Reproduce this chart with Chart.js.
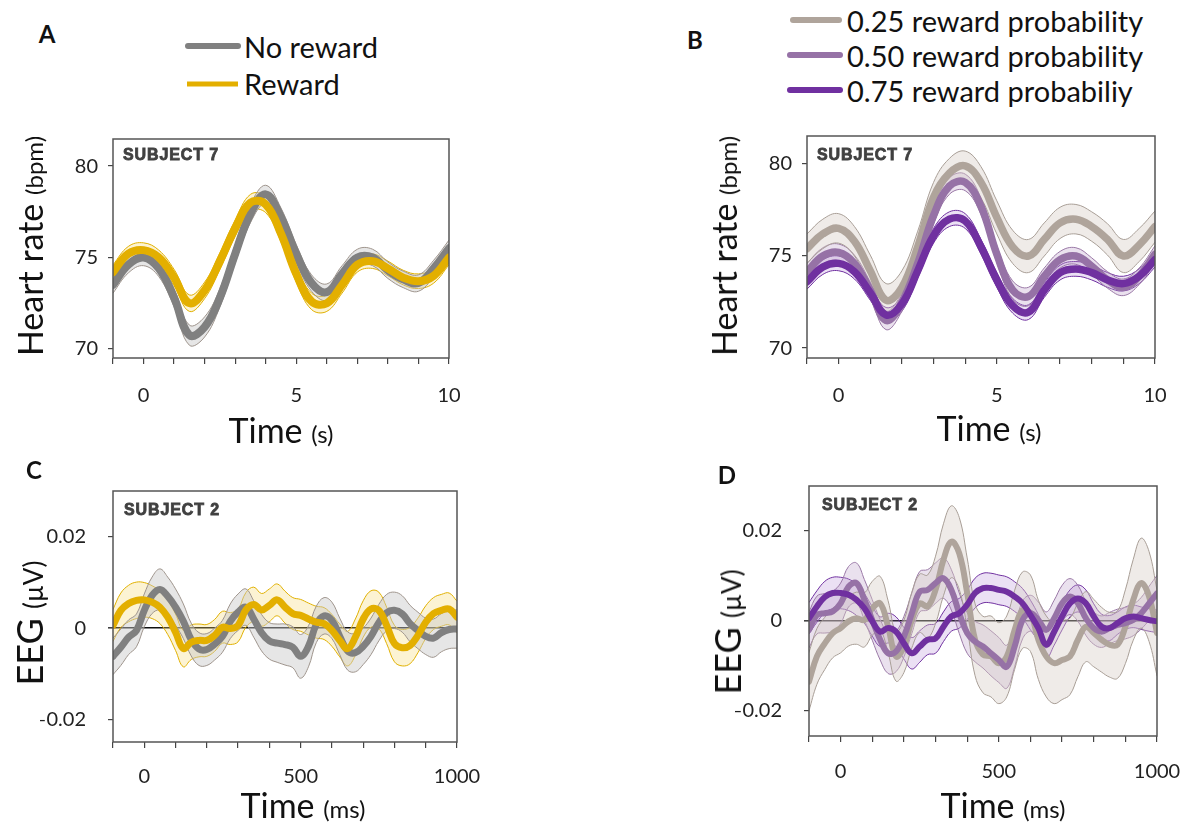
<!DOCTYPE html>
<html>
<head>
<meta charset="utf-8">
<script src="https://cdn.jsdelivr.net/npm/chart.js@4.4.0/dist/chart.umd.min.js"></script>
<style>
  body { margin: 0; background: #fff; width: 1192px; height: 832px; position: relative; overflow: hidden; font-family: Lato, sans-serif; color: #111; }
  canvas { position: absolute; }
  .t { position: absolute; white-space: nowrap; line-height: 1; }
  .letter { font-weight: bold; font-size: 24px; transform: translate(-50%, -50%); }
  .leg { font-size: 29px; transform: translateY(-50%); }
  .swatch { position: absolute; height: 6px; border-radius: 3px; transform: translateY(-50%); }
  .subj { font-family: "Liberation Sans", sans-serif; font-weight: bold; font-size: 16px; color: #404040; letter-spacing: 0.9px; -webkit-text-stroke: 0.8px #404040; transform: translateY(-50%); }
  .xt { transform: translate(-50%, -50%); }
  .yt { transform: translate(-50%, -50%) rotate(-90deg); }
  .big { font-size: 34px; }
  .small { font-size: 24px; }
  .eeg .big { font-size: 36px; }
  .eeg .small { font-size: 26px; }
</style>
</head>
<body>
<canvas id="chartA" width="420" height="300" style="left:40px;top:120px"></canvas>
<canvas id="chartB" width="445" height="300" style="left:735px;top:120px"></canvas>
<canvas id="chartC" width="441" height="340" style="left:40px;top:470px"></canvas>
<canvas id="chartD" width="450" height="340" style="left:735px;top:470px"></canvas>

<div class="t letter" style="left:47px;top:34px">A</div>
<div class="t letter" style="left:695px;top:40px">B</div>
<div class="t letter" style="left:34px;top:470px">C</div>
<div class="t letter" style="left:727px;top:475px">D</div>

<div class="swatch" style="left:185px;top:46px;width:56px;background:#808080"></div>
<div class="t leg" style="left:244px;top:46px">No reward</div>
<div class="swatch" style="left:187px;top:84px;width:51px;height:5px;border-radius:0;background:#E3AF00"></div>
<div class="t leg" style="left:244px;top:83px">Reward</div>

<div class="swatch" style="left:790px;top:20px;width:52px;background:#AFA49B"></div>
<div class="t leg" style="left:847px;top:20px">0.25 reward probability</div>
<div class="swatch" style="left:787px;top:55px;width:56px;background:#9672A6"></div>
<div class="t leg" style="left:847px;top:55px">0.50 reward probability</div>
<div class="swatch" style="left:787px;top:90px;width:56px;background:#7030A0"></div>
<div class="t leg" style="left:847px;top:90px">0.75 reward probabiliy</div>

<div class="t subj" style="left:123px;top:155px">SUBJECT 7</div>
<div class="t subj" style="left:817px;top:155px">SUBJECT 7</div>
<div class="t subj" style="left:124px;top:510px">SUBJECT 2</div>
<div class="t subj" style="left:822px;top:505px">SUBJECT 2</div>

<div class="t yt" style="left:30px;top:246px"><span class="big">Heart rate </span><span class="small">(bpm)</span></div>
<div class="t yt" style="left:724px;top:246px"><span class="big">Heart rate </span><span class="small">(bpm)</span></div>
<div class="t yt eeg" style="left:29px;top:623px"><span class="big">EEG </span><span class="small">(µV)</span></div>
<div class="t yt eeg" style="left:727px;top:632px"><span class="big">EEG </span><span class="small">(µV)</span></div>

<div class="t xt" style="left:281px;top:430px"><span class="big">Time </span><span class="small">(s)</span></div>
<div class="t xt" style="left:989px;top:428px"><span class="big">Time </span><span class="small">(s)</span></div>
<div class="t xt" style="left:303px;top:805px"><span class="big">Time </span><span class="small">(ms)</span></div>
<div class="t xt" style="left:1003px;top:805px"><span class="big">Time </span><span class="small">(ms)</span></div>

<script>
// heart rate panels, time in seconds
const timeS = [-1, -0.5, 0, 0.5, 1, 1.5, 2, 2.5, 3, 3.5, 4, 4.5, 5, 5.5, 6, 6.5, 7, 7.5, 8, 8.5, 9, 9.5, 10]

const noRewardHR = [73.5, 74.6, 75.0, 74.4, 72.8, 70.75, 71.2, 72.8, 75.2, 77.4, 78.45, 77.2, 75.2, 73.6, 73.1, 74.1, 75.0, 75.0, 74.3, 73.8, 73.6, 74.4, 75.5]
const noRewardHRErr = [0.45, 0.45, 0.45, 0.45, 0.5, 0.55, 0.55, 0.5, 0.5, 0.5, 0.5, 0.5, 0.5, 0.45, 0.45, 0.45, 0.45, 0.45, 0.45, 0.45, 0.45, 0.45, 0.45]
const rewardHR = [74.2, 75.2, 75.4, 75.0, 73.9, 72.5, 73.2, 74.8, 76.6, 78.0, 77.9, 76.3, 74.1, 72.6, 72.5, 73.5, 74.6, 74.8, 74.4, 73.9, 73.7, 74.0, 75.0]
const rewardHRErr = [0.4, 0.4, 0.4, 0.4, 0.45, 0.45, 0.45, 0.45, 0.45, 0.45, 0.45, 0.45, 0.45, 0.45, 0.45, 0.45, 0.4, 0.4, 0.4, 0.4, 0.4, 0.4, 0.4]

const p25HR = [75.4, 76.2, 76.5, 75.8, 74.2, 72.6, 73.3, 75.5, 78.2, 79.5, 79.9, 79.0, 77.1, 75.5, 75.0, 75.9, 76.8, 77.0, 76.6, 75.9, 75.0, 75.6, 76.6]
const p25HRErr = [0.8, 0.8, 0.8, 0.8, 0.85, 0.9, 0.9, 0.85, 0.8, 0.8, 0.8, 0.85, 0.9, 0.9, 0.9, 0.9, 0.85, 0.8, 0.8, 0.85, 0.9, 0.9, 0.85]
const p50HR = [74.15, 75.0, 75.2, 74.6, 73.15, 71.5, 72.5, 74.6, 77.2, 78.8, 79.0, 77.7, 75.1, 73.15, 72.8, 73.9, 74.8, 75.0, 74.45, 73.7, 73.3, 73.9, 75.1]
const p50HRErr = [0.45, 0.45, 0.45, 0.45, 0.45, 0.5, 0.5, 0.45, 0.45, 0.45, 0.45, 0.45, 0.45, 0.5, 0.5, 0.45, 0.45, 0.45, 0.45, 0.45, 0.45, 0.45, 0.45]
const p75HR = [73.6, 74.4, 74.6, 74.15, 73.0, 71.8, 72.4, 74.2, 76.1, 77.0, 76.9, 75.5, 73.7, 72.3, 71.95, 73.15, 74.1, 74.3, 74.1, 73.7, 73.5, 73.9, 74.8]
const p75HRErr = [0.4, 0.4, 0.4, 0.4, 0.4, 0.4, 0.4, 0.4, 0.4, 0.4, 0.4, 0.4, 0.4, 0.4, 0.4, 0.4, 0.4, 0.4, 0.4, 0.4, 0.4, 0.4, 0.4]

// EEG panels, time in ms
const timeMs = [
  -100, -75, -50, -25, 0, 25, 50, 75, 100,
  125, 150, 175, 200, 225, 250, 275, 300, 325,
  350, 375, 400, 425, 450, 475, 500, 525, 550,
  575, 600, 625, 650, 675, 700, 725, 750, 775,
  800, 825, 850, 875, 900, 925, 950, 975, 1000]

const noRewardEEG = [
  -0.0062, -0.0042, -0.0020, -0.0005, 0.0039, 0.0072, 0.0085, 0.0070, 0.0046,
  0.0015, -0.0025, -0.0046, -0.0047, -0.0035, -0.0018, 0.0015, 0.0035, 0.0046,
  0.0020, -0.0010, -0.0028, -0.0033, -0.0036, -0.0042, -0.0062, -0.0040, 0.0008,
  0.0027, 0.0017, -0.0018, -0.0050, -0.0054, -0.0040, -0.0018, 0.0012, 0.0034,
  0.0039, 0.0031, 0.0010, -0.0005, -0.0018, -0.0022, -0.0010, -0.0003, -0.0002]
const noRewardEEGErr = [
  0.0040, 0.0040, 0.0038, 0.0036, 0.0036, 0.0040, 0.0045, 0.0042, 0.0040,
  0.0038, 0.0036, 0.0036, 0.0035, 0.0035, 0.0035, 0.0038, 0.0040, 0.0040,
  0.0040, 0.0040, 0.0040, 0.0042, 0.0045, 0.0045, 0.0048, 0.0045, 0.0040,
  0.0040, 0.0040, 0.0040, 0.0042, 0.0042, 0.0040, 0.0040, 0.0040, 0.0040,
  0.0040, 0.0040, 0.0040, 0.0040, 0.0040, 0.0042, 0.0042, 0.0042, 0.0042]
const rewardEEG = [
  0.0006, 0.0039, 0.0054, 0.0061, 0.0062, 0.0057, 0.0046, 0.0024, -0.0009,
  -0.0045, -0.0031, -0.0027, -0.0027, -0.0016, 0.0002, -0.0001, 0.0006, 0.0040,
  0.0052, 0.0040, 0.0050, 0.0062, 0.0046, 0.0032, 0.0028, 0.0020, 0.0013,
  0.0010, -0.0005, -0.0027, -0.0045, -0.0020, 0.0020, 0.0042, 0.0039, 0.0006,
  -0.0034, -0.0043, -0.0038, -0.0016, 0.0013, 0.0032, 0.0039, 0.0042, 0.0024]
const rewardEEGErr = [
  0.0035, 0.0038, 0.0040, 0.0040, 0.0038, 0.0036, 0.0036, 0.0038, 0.0040,
  0.0040, 0.0038, 0.0036, 0.0035, 0.0035, 0.0035, 0.0035, 0.0036, 0.0038,
  0.0038, 0.0036, 0.0036, 0.0035, 0.0035, 0.0035, 0.0035, 0.0035, 0.0035,
  0.0035, 0.0035, 0.0036, 0.0038, 0.0040, 0.0040, 0.0040, 0.0040, 0.0040,
  0.0040, 0.0040, 0.0040, 0.0038, 0.0036, 0.0035, 0.0035, 0.0035, 0.0035]

const p25EEG = [
  -0.0135, -0.0079, -0.0050, -0.0027, -0.0016, -0.0001, 0.0006, 0.0002, 0.0028,
  0.0039, -0.0013, -0.0079, -0.0057, 0.0002, 0.0039, 0.0032, 0.0069, 0.0136,
  0.0176, 0.0150, 0.0062, -0.0042, -0.0075, -0.0079, -0.0094, -0.0079, -0.0020,
  0.0024, 0.0017, -0.0042, -0.0079, -0.0094, -0.0087, -0.0079, -0.0042, -0.0013,
  -0.0027, -0.0042, -0.0053, -0.0053, -0.0013, 0.0047, 0.0084, 0.0054, -0.0027]
const p25EEGErr = [
  0.0065, 0.0062, 0.0058, 0.0055, 0.0055, 0.0055, 0.0058, 0.0060, 0.0060,
  0.0060, 0.0058, 0.0055, 0.0058, 0.0062, 0.0065, 0.0070, 0.0075, 0.0080,
  0.0080, 0.0080, 0.0078, 0.0080, 0.0085, 0.0090, 0.0090, 0.0090, 0.0088,
  0.0085, 0.0085, 0.0088, 0.0090, 0.0090, 0.0088, 0.0085, 0.0082, 0.0078,
  0.0075, 0.0072, 0.0072, 0.0075, 0.0082, 0.0090, 0.0100, 0.0100, 0.0095]
const p50EEG = [
  -0.0020, 0.0013, 0.0017, 0.0021, 0.0039, 0.0076, 0.0084, 0.0047, 0.0002,
  -0.0042, -0.0072, -0.0068, -0.0035, 0.0017, 0.0065, 0.0069, 0.0084, 0.0095,
  0.0069, 0.0017, -0.0027, -0.0046, -0.0057, -0.0072, -0.0087, -0.0102, -0.0057,
  0.0002, 0.0017, 0.0002, -0.0020, 0.0006, 0.0039, 0.0054, 0.0039, 0.0006,
  -0.0016, -0.0024, -0.0016, -0.0009, -0.0005, 0.0002, 0.0017, 0.0039, 0.0061]
const p50EEGErr = [
  0.0040, 0.0042, 0.0044, 0.0045, 0.0045, 0.0045, 0.0045, 0.0045, 0.0045,
  0.0045, 0.0045, 0.0045, 0.0045, 0.0045, 0.0045, 0.0045, 0.0045, 0.0045,
  0.0045, 0.0045, 0.0045, 0.0045, 0.0048, 0.0050, 0.0050, 0.0048, 0.0045,
  0.0042, 0.0040, 0.0040, 0.0040, 0.0040, 0.0040, 0.0040, 0.0040, 0.0038,
  0.0036, 0.0035, 0.0035, 0.0035, 0.0035, 0.0035, 0.0035, 0.0038, 0.0040]
const p75EEG = [
  0.0006, 0.0032, 0.0053, 0.0062, 0.0062, 0.0058, 0.0047, 0.0028, -0.0001,
  -0.0024, -0.0016, -0.0024, -0.0050, -0.0072, -0.0057, -0.0042, -0.0039, -0.0013,
  0.0010, 0.0017, 0.0036, 0.0062, 0.0073, 0.0073, 0.0069, 0.0065, 0.0054,
  0.0039, 0.0013, -0.0016, -0.0053, -0.0024, 0.0010, 0.0039, 0.0050, 0.0039,
  0.0010, -0.0013, -0.0016, -0.0005, 0.0006, 0.0010, 0.0006, 0.0002, -0.0001]
const p75EEGErr = [
  0.0035, 0.0035, 0.0035, 0.0035, 0.0035, 0.0035, 0.0035, 0.0033, 0.0033,
  0.0033, 0.0033, 0.0033, 0.0035, 0.0035, 0.0035, 0.0033, 0.0033, 0.0033,
  0.0033, 0.0033, 0.0033, 0.0033, 0.0033, 0.0033, 0.0033, 0.0033, 0.0033,
  0.0033, 0.0033, 0.0030, 0.0030, 0.0030, 0.0030, 0.0030, 0.0030, 0.0030,
  0.0028, 0.0028, 0.0028, 0.0025, 0.0025, 0.0025, 0.0025, 0.0025, 0.0025]

const styles = {
  noReward: { color: '#808080', band: 'rgba(200,200,200,0.45)', edge: '#9e948c' },
  reward: { color: '#E3AF00', band: 'rgba(245,215,110,0.3)', edge: '#E0B000' },
  p25: { color: '#AFA49B', band: 'rgba(215,205,198,0.4)', edge: '#a89e96' },
  p50: { color: '#9672A6', band: 'rgba(185,155,200,0.3)', edge: '#9a78a6' },
  p75: { color: '#7030A0', band: 'rgba(165,115,205,0.22)', edge: '#7030A0' }
}

// lower edge, upper edge (filled to lower), then the mean line
function seriesSets(xs, mean, err, st, width, order) {
  const pts = f => xs.map((x, i) => ({ x: x, y: f(i) }))
  return [
    { data: pts(i => mean[i] - err[i]), borderColor: st.edge, borderWidth: 1, fill: false, order: 20 },
    { data: pts(i => mean[i] + err[i]), borderColor: st.edge, borderWidth: 1, backgroundColor: st.band, fill: '-1', order: 20 },
    { data: pts(i => mean[i]), borderColor: st.color, borderWidth: width, fill: false, order: order }
  ]
}

const frame = {
  id: 'frame',
  afterDatasetsDraw(chart) {
    const a = chart.chartArea
    const ctx = chart.ctx
    ctx.save()
    ctx.strokeStyle = '#555'
    ctx.lineWidth = 1.5
    ctx.strokeRect(a.left, a.top, a.right - a.left, a.bottom - a.top)
    ctx.restore()
  }
}

function panel(id, datasets, o) {
  new Chart(document.getElementById(id), {
    type: 'line',
    data: { datasets: datasets },
    options: {
      responsive: false,
      animation: false,
      elements: { point: { radius: 0 }, line: { tension: 0.4, borderCapStyle: 'round' } },
      layout: { padding: o.pad },
      plugins: { legend: { display: false }, tooltip: { enabled: false } },
      scales: {
        x: {
          type: 'linear', min: o.xMin, max: o.xMax,
          // fixed height, and no extra room for the end labels
          afterFit: s => { s.height = o.xH; s.paddingLeft = 0; s.paddingRight = 0 },
          afterBuildTicks: s => { s.ticks = o.xTicks.map(v => ({ value: v })) },
          ticks: {
            autoSkip: false, maxRotation: 0, padding: o.xPad, color: '#222',
            font: { family: 'Lato', size: 20 },
            callback: v => o.xLabels.includes(v) ? String(v) : ''
          },
          grid: { drawOnChartArea: false, tickLength: 6, color: '#444', lineWidth: 1.2 },
          border: { display: false }
        },
        y: {
          min: o.yMin, max: o.yMax, z: 1,
          afterFit: s => { s.width = o.yW; s.paddingTop = 0; s.paddingBottom = 0 },
          afterBuildTicks: s => { s.ticks = o.yTicks.map(v => ({ value: v })) },
          ticks: {
            padding: o.yPad, color: '#222',
            font: { family: 'Lato', size: 20 },
            callback: o.yFmt
          },
          grid: {
            drawOnChartArea: o.zeroLine,
            tickLength: 5, tickColor: '#444',
            color: c => (o.zeroLine && c.tick && c.tick.value === 0) ? '#111' : (o.zeroLine ? 'rgba(0,0,0,0)' : '#444'),
            lineWidth: c => (o.zeroLine && c.tick && c.tick.value === 0) ? 1.6 : 1.2
          },
          border: { display: false }
        }
      }
    },
    plugins: [frame]
  })
}

const hrFmt = v => String(v)
const eegFmt = v => v === 0 ? '0' : (v < 0 ? '\u2013' : '') + Math.abs(v).toFixed(2)

panel('chartA', [
  ...seriesSets(timeS, noRewardHR, noRewardHRErr, styles.noReward, 8, 2),
  ...seriesSets(timeS, rewardHR, rewardHRErr, styles.reward, 8, 1)
], {
  pad: { top: 19, right: 11, left: 0, bottom: 0 }, xH: 62, yW: 73, xPad: 20, yPad: 10,
  xMin: -1, xMax: 10, xTicks: [-1, 0, 1, 2, 3, 4, 5, 6, 7, 8, 9, 10], xLabels: [0, 5, 10],
  yMin: 69.5, yMax: 81.48, yTicks: [70, 75, 80], yFmt: hrFmt, zeroLine: false
})

panel('chartB', [
  ...seriesSets(timeS, p25HR, p25HRErr, styles.p25, 7.5, 3),
  ...seriesSets(timeS, p50HR, p50HRErr, styles.p50, 7.5, 2),
  ...seriesSets(timeS, p75HR, p75HRErr, styles.p75, 7.5, 1)
], {
  pad: { top: 16, right: 25, left: 0, bottom: 0 }, xH: 62, yW: 72, xPad: 20, yPad: 10,
  xMin: -1, xMax: 10, xTicks: [-1, 0, 1, 2, 3, 4, 5, 6, 7, 8, 9, 10], xLabels: [0, 5, 10],
  yMin: 69.46, yMax: 81.52, yTicks: [70, 75, 80], yFmt: hrFmt, zeroLine: false
})

panel('chartC', [
  ...seriesSets(timeMs, noRewardEEG, noRewardEEGErr, styles.noReward, 7, 2),
  ...seriesSets(timeMs, rewardEEG, rewardEEGErr, styles.reward, 7, 1)
], {
  pad: { top: 21, right: 24, left: 0, bottom: 0 }, xH: 68, yW: 73, xPad: 17, yPad: 22,
  xMin: -100, xMax: 1000, xTicks: [-100, 0, 100, 200, 300, 400, 500, 600, 700, 800, 900, 1000], xLabels: [0, 500, 1000],
  yMin: -0.025, yMax: 0.0301, yTicks: [-0.02, 0, 0.02], yFmt: eegFmt, zeroLine: true
})

panel('chartD', [
  ...seriesSets(timeMs, p25EEG, p25EEGErr, styles.p25, 6, 3),
  ...seriesSets(timeMs, p50EEG, p50EEGErr, styles.p50, 6, 2),
  ...seriesSets(timeMs, p75EEG, p75EEGErr, styles.p75, 6, 1)
], {
  pad: { top: 16, right: 28, left: 0, bottom: 0 }, xH: 74, yW: 74, xPad: 18, yPad: 22,
  xMin: -100, xMax: 1000, xTicks: [-100, 0, 100, 200, 300, 400, 500, 600, 700, 800, 900, 1000], xLabels: [0, 500, 1000],
  yMin: -0.0256, yMax: 0.030, yTicks: [-0.02, 0, 0.02], yFmt: eegFmt, zeroLine: true
})
</script>
</body>
</html>
